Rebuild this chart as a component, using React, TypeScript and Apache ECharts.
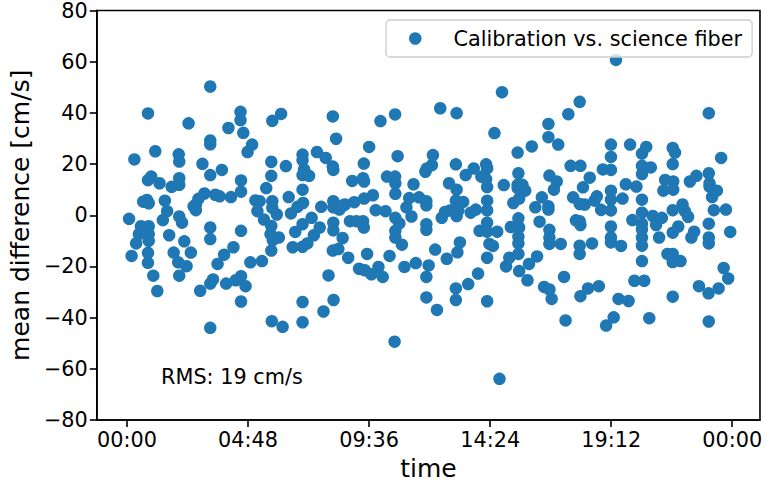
import React, { useEffect, useRef } from "react";
import * as echarts from "echarts";

// time of day in hours, mean difference in cm/s
const seg1: number[][] = [
  [0.08, -1.4], [0.29, 21.8], [0.18, -15.9], [0.36, -11], [0.47, -7.4], [0.55, -4.3], [0.64, 5.3],
  [0.83, 39.8], [0.83, 13.7], [0.96, 15.1], [0.79, 6], [0.86, 4.7], [0.86, -4.3], [0.86, -7.4],
  [0.86, -10], [0.83, -14.7], [0.83, -18.6], [1.04, -23.6], [1.2, -29.6], [1.12, 25], [1.29, 12.5],
  [1.5, 5.7], [1.59, 1.6], [1.42, -1.9], [1.67, -7.8], [1.85, -14.6], [1.77, 11.1], [2.05, 23.8],
  [2.07, 21.0], [2.07, 14.5], [2.07, 11.9], [2.07, -0.5], [2.18, -2.9], [2.27, -10.2], [2.03, -18.4],
  [2.36, -19.9], [2.07, -23.6], [2.53, -14.6], [2.44, 35.9], [2.99, 20.1], [2.73, 4.2], [2.73, 2],
  [2.64, 3.5], [2.83, 6.4], [3.07, 8.5], [2.9, -29.5],
];
const seg2: number[][] = [
  [3.3, 50.3], [3.3, 29.2], [3.3, 27.7], [3.3, 15.7], [3.5, 8], [3.67, 7.4], [3.76, 17.7], [3.3, -4.8],
  [3.3, -9.3], [3.3, -26.7], [3.41, -25.1], [3.3, -44], [3.59, -19], [3.85, -15.4], [4.22, -12.5],
  [3.93, -26.7], [4.31, -25.4], [4.52, -23.8], [4.7, -27.7], [4.52, -33.7], [4.02, 34.1], [4.5, 40.4],
  [4.5, 37.2], [4.61, 32.2], [4.78, 24.7], [4.96, 27.6], [4.52, 13.6], [4.52, 9.2], [4.12, 7.1],
  [4.52, -6.1], [4.89, -18.4], [5.35, -17.9], [5.09, 5.8], [5.26, 5.5], [5.17, 1.6], [5.43, -1.7],
  [5.52, 10.6], [5.72, 20.9], [5.72, 15.4], [5.76, 5.5], [5.76, 2.9], [5.94, 0.3], [5.72, -4.2],
  [5.69, -7.4], [5.78, -9.7], [6.02, -8.7], [5.72, -13.8], [5.76, 36.9], [6.11, 39.6], [6.3, 19.2],
  [6.41, 7.1], [6.5, 0.7], [6.67, -6.5], [6.57, -12.5], [6.96, 23.7], [6.96, 21.5], [7.02, 17.9],
  [6.96, 15.7], [7.22, 15.4], [6.96, 10], [6.76, 3.3], [6.98, 4.8], [6.96, -3.5], [6.96, -12.3],
  [7.15, -11], [7.32, -1], [7.41, -7.8], [6.96, -33.9], [5.74, -41.4], [6.17, -43.6], [6.96, -41.8],
];
const seg3: number[][] = [
  [7.53, 24.7], [7.64, -4.8], [7.7, 3.3], [7.88, 22.4], [8.16, 38.6], [8.29, 29.9], [8.16, 19],
  [8.18, 17.7], [8.18, 5.5], [8.18, 3.1], [8.42, 2.2], [8.58, 3.9], [8.64, 4.2], [9.01, 5.1],
  [8.18, -2.9], [8.18, -5.9], [8.55, -8.9], [8.16, -13.8], [8.38, -13.2], [8.77, -16.6], [7.99, -23.5],
  [8.19, -33.1], [7.79, -37.6], [8.84, -2.3], [9.1, -2.3], [9.36, -2.3], [9.39, -4.8], [8.93, 13.4],
  [9.36, 14.5], [9.4, 13.2], [9.39, 20.2], [9.6, 26.7], [9.4, 6.5], [9.75, 7.8], [9.86, 2],
  [10.25, 1.6], [9.52, -15.1], [9.2, -20.9], [9.43, -21.5], [9.69, -23.1], [9.97, -20.2],
  [10.14, -24.1], [10.41, -15.9], [10.05, 36.8], [10.63, 39.4], [10.73, 23.1], [10.31, 15.1],
  [10.63, 15.1], [10.64, 12.5], [10.64, 8.4], [10.64, -1], [10.8, -3.2], [10.64, -6.1], [10.64, -8.7],
  [10.9, -11.5], [11.0, -20.2], [11.45, -18.7], [10.61, -49.4], [11.08, 3.1], [11.28, -0.5],
  [11.19, 6.7], [11.36, 12.1], [11.58, 7],
];
const seg4: number[][] = [
  [11.87, 5.5], [11.87, 3.9], [11.87, -3.5], [11.87, -5.7], [11.96, -19.6], [11.87, -24.1],
  [11.87, -32.1], [11.83, 17], [11.89, 18.3], [12.09, 19.6], [12.13, 23.5], [12.29, -37],
  [12.22, -13.4], [12.42, 41.8], [12.48, -1], [12.61, 1.3], [12.81, 1.9], [12.68, -17], [12.77, 12.5],
  [13.07, 39.9], [13.04, 19.9], [13.07, 10], [13.04, 5.7], [13.07, -0.3], [13.33, 5.2], [13.14, 1.9],
  [13.2, -10.6], [13.1, -14.5], [13.04, -28.6], [13.04, -33.1], [13.43, 15.7], [13.53, -26.9],
  [13.63, 1], [13.75, 18.3], [13.83, 2.2], [13.92, -22.8], [13.98, -6.1], [14.05, 15.1], [14.24, 19.9],
  [14.28, 18.3], [14.24, 14.1], [14.28, 11], [14.28, 5.7], [14.28, 1.9], [14.28, -2.9], [14.28, -6.4],
  [14.37, -11.2], [14.51, -12], [14.28, -16.6], [14.28, -33.6], [14.57, 32.1], [14.68, -6.4],
  [14.87, 48.1], [14.77, -63.9], [14.94, 11.8], [15.03, -20], [15.16, -16.6], [15.22, -4.6],
  [15.32, 4.8], [15.49, 24.5], [15.52, 16.4], [15.49, 11.9], [15.49, 10.6], [15.68, 11.9],
  [15.79, 9.6], [15.55, 6.5], [15.52, -1.2], [15.55, -4.8], [15.52, -8.4], [15.52, -11],
  [15.52, -15.1], [15.55, -21.8], [15.88, -25.4], [15.94, -19],
];
const seg5: number[][] = [
  [16.05, 26.9], [16.26, -16.1], [16.19, 3.1], [16.45, 7], [16.36, -2.5], [16.54, -28], [16.75, -29],
  [16.84, -32.7], [16.71, 35.7], [16.71, 30.5], [16.75, 15.5], [16.71, 3.5], [16.71, 2.2],
  [17.04, 13.2], [16.93, 10], [16.75, -5.7], [16.75, -8.7], [16.75, -11.2], [17.1, 27.6],
  [17.2, -11.2], [17.33, -24.1], [17.39, -41.1], [17.5, 39.5], [17.59, 19.3], [17.69, 7], [17.8, -2],
  [17.95, 44.3], [17.98, 19.3], [18.08, 10.9], [17.95, 4.4], [18.15, 4.2], [17.95, -2.3],
  [17.98, -3.8], [17.95, -11.9], [17.95, -15.1], [17.98, -31.6], [18.28, -28.6], [18.35, 14.7],
  [18.44, -11], [18.54, 5.7], [18.63, 7.4], [18.71, -27.7], [18.8, 2.1], [18.87, 17.9], [19.0, -43.1],
  [19.19, 27.6], [19.19, 22.8], [19.19, 17.7], [19.19, 9.6], [19.19, 6.1], [19.19, 1.9], [19.19, -4.4],
  [19.19, -8.7], [19.19, -10.6], [19.3, -39.9], [19.39, 60.7], [19.49, -32.7], [19.59, -12],
  [19.65, 6.5], [19.78, 12.1], [19.89, -33.5], [19.95, 27.6], [20.04, -1.9],
];
const seg6: number[][] = [
  [20.2, 11.2], [20.12, -25.6], [20.42, 24.1], [20.59, 26.7], [20.42, 19.3], [20.42, 16.1],
  [20.77, 18.7], [20.42, 6.1], [20.42, 1], [20.42, -3.3], [20.42, -5.5], [20.42, -8.7], [20.42, -11.9],
  [20.42, -17.9], [20.51, -25.6], [20.71, -40.2], [20.85, -0.3], [20.98, -3.8], [21.21, -1],
  [21.1, -8.7], [21.27, 9.6], [21.34, 13.8], [21.64, 26.3], [21.73, 24.5], [21.64, 20], [21.66, 13.2],
  [21.66, 10], [21.64, 2], [21.86, -4.4], [21.64, -6.8], [21.43, -15.1], [21.64, -15.1],
  [21.64, -18.3], [21.95, -17.9], [21.64, -31.8], [22.03, 4.2], [22.12, 1.6], [22.25, -0.6],
  [22.32, 13.2], [22.58, 15.4], [22.49, -6.4], [22.38, -8.7], [22.68, -27.7], [23.07, 39.9],
  [23.07, 16.4], [23.1, 12.5], [23.1, 11.2], [23.39, 9.6], [23.2, 7.1], [23.27, 2], [23.07, -3.3],
  [23.07, -8.7], [23.07, -11], [23.06, -30.5], [23.07, -41.5], [23.46, -28.6], [23.56, 22.4],
  [23.66, -20.6], [23.84, -24.7], [23.75, 2.2], [23.92, -6.5],
];

const xTickHours = [0, 4.8, 9.6, 14.4, 19.2, 24];
const xRange = [-1.2, 25.1];
const yRange = [-80, 80];
const yStep = 20;
const seriesName = "Calibration vs. science fiber";
const rmsText = "RMS: 19 cm/s";
const xTitle = "time";
const yTitle = "mean difference [cm/s]";

const FONT = "DejaVu Sans";

function fmtHours(v: number): string {
  const m = Math.round(v * 60) % 1440;
  const hh = Math.floor(m / 60);
  const mm = m % 60;
  return String(hh).padStart(2, "0") + ":" + String(mm).padStart(2, "0");
}

function fmtY(v: number): string {
  return v < 0 ? "\u2212" + String(-v) : String(v);
}

export default function App() {
  const ref = useRef<HTMLDivElement>(null);
  useEffect(() => {
    if (!ref.current) return;
    const chart = echarts.init(ref.current, undefined, { renderer: "svg" });
    const data = [...seg1, ...seg2, ...seg3, ...seg4, ...seg5, ...seg6];
    const axisLineStyle = { color: "#000", width: 1.6 };
    chart.setOption({
      animation: false,
      backgroundColor: "#fff",
      grid: {
        left: 92,
        right: 2,
        top: 10,
        bottom: 61,
        show: true,
        borderColor: "#000",
        borderWidth: 1.6,
        backgroundColor: "transparent",
      },
      legend: {
        show: true,
        data: [{ name: seriesName, icon: "circle" }],
        left: 386,
        top: 20,
        padding: [8, 10, 8, 23],
        itemWidth: 12.5,
        itemHeight: 12.5,
        itemGap: 0,
        borderColor: "#cccccc",
        borderWidth: 1.3,
        borderRadius: 4,
        backgroundColor: "rgba(255,255,255,0.8)",
        textStyle: {
          fontFamily: FONT,
          fontSize: 20.8,
          color: "#000",
          lineHeight: 21,
          padding: [0, 0, 0, 27],
        },
      },
      xAxis: {
        type: "value",
        min: xRange[0],
        max: xRange[1],
        name: xTitle,
        nameLocation: "middle",
        nameGap: 36,
        nameTextStyle: { fontFamily: FONT, fontSize: 25, color: "#000" },
        axisLine: { show: true, onZero: false, lineStyle: axisLineStyle },
        axisTick: { show: true, length: 7, customValues: xTickHours, lineStyle: axisLineStyle },
        axisLabel: {
          customValues: xTickHours,
          formatter: (v: number) => fmtHours(v),
          fontFamily: FONT,
          fontSize: 20.8,
          color: "#000",
          margin: 9,
        },
        splitLine: { show: false },
      },
      yAxis: {
        type: "value",
        min: yRange[0],
        max: yRange[1],
        interval: yStep,
        name: yTitle,
        nameLocation: "middle",
        nameGap: 60,
        nameTextStyle: { fontFamily: FONT, fontSize: 25, color: "#000" },
        axisLine: { show: true, onZero: false, lineStyle: axisLineStyle },
        axisTick: { show: true, length: 7, lineStyle: axisLineStyle },
        axisLabel: {
          formatter: (v: number) => fmtY(v),
          fontFamily: FONT,
          fontSize: 20.8,
          color: "#000",
          margin: 9,
        },
        splitLine: { show: false },
      },
      graphic: [
        {
          type: "text",
          x: 161,
          y: 377,
          style: {
            text: rmsText,
            fontFamily: FONT,
            fontSize: 20.8,
            fill: "#000",
            verticalAlign: "middle",
          },
        },
      ],
      series: [
        {
          name: seriesName,
          type: "scatter",
          symbol: "circle",
          symbolSize: 12.5,
          itemStyle: { color: "#1f77b4", opacity: 1 },
          data,
          z: 2,
        },
      ],
    });
    return () => chart.dispose();
  }, []);
  return (
    <div
      ref={ref}
      style={{ position: "fixed", left: 0, top: 0, width: 765, height: 486, background: "#fff" }}
    />
  );
}
